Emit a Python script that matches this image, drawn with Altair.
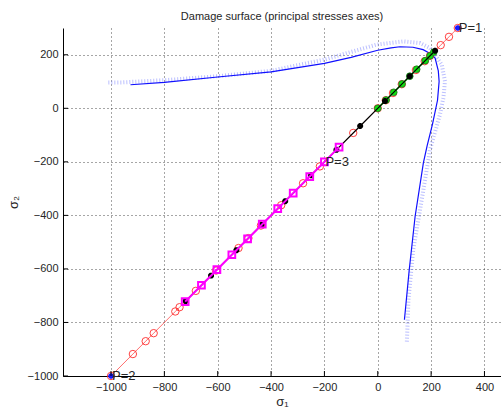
import altair as alt
import pandas as pd

# ---- data -------------------------------------------------------------
# damage surface, solid trace (sigma1, sigma2)
surf_s1 = [-927, -800, -600, -400, -200, -100, 0, 50, 83, 132, 170, 196, 215, 227, 230, 224, 205, 185, 171, 140, 118, 100]
surf_s2 = [88, 97, 117, 136, 168, 190, 217, 226, 230, 228, 219, 205, 188, 140, 100, 30, -60, -140, -204, -404, -603, -790]

# damage surface, hatched band just outside the solid trace
band_s1 = [-1010, -954, -800, -600, -400, -200, -4, 96, 158, 196, 240, 252, 246, 233, 196, 165, 133, 115, 109]
band_s2 = [96, 97, 105, 120, 140, 182, 238, 250, 244, 225, 163, 101, 39, -24, -154, -341, -528, -715, -877]

# proportional loading paths (sigma1 = sigma2)
red_path = [-1000, -918, -870, -840, -759, -743, -682, -606, -522, -485, -438, -362, -280, -217,
            -92, 0, 30, 57, 90, 143, 176, 196, 236, 267, 300]
black_path = [-720, -625, -530, -436, -347, -250, -155, -66, 27, 120, 215]
magenta_path = [-722, -661, -603, -547, -488, -433, -375, -317, -255, -200, -145]
green_path = [0, 31, 60, 91, 120, 146, 178, 196, 210]

# labelled load points
pt_names = ["P=1", "P=2", "P=3"]
pt_s1 = [300, -1000, -200]
pt_s2 = [300, -1000, -200]
end_pts = [300, -1000]

x_ticks = [-1000, -800, -600, -400, -200, 0, 200, 400]
y_ticks = [-1000, -800, -600, -400, -200, 0, 200]

X_DOM = [-1180, 462]
Y_DOM = [-1000, 300]
W, H = 438, 348

FONT = "Liberation Sans"
TXT = "#262626"

# ---- tables -------------------------------------------------------------
def path_df(xs, ys):
    return pd.DataFrame({"s1": xs, "s2": ys, "i": range(len(xs))})

surf = path_df(surf_s1, surf_s2)
band = path_df(band_s1, band_s2)
red = path_df(red_path, red_path)
black = path_df(black_path, black_path)
magenta = path_df(magenta_path, magenta_path)
green = path_df(green_path, green_path)
pts = pd.DataFrame({"s1": pt_s1, "s2": pt_s2, "name": pt_names})
ends = path_df(end_pts, end_pts)

xs = alt.Scale(domain=X_DOM, nice=False, zero=False)
ys = alt.Scale(domain=Y_DOM, nice=False, zero=False)

x_axis = alt.Axis(values=x_ticks, format="d", title="σ₁", grid=True, ticks=False,
                  labelPadding=5, titleY=19, titleFontSize=13)
y_axis = alt.Axis(values=y_ticks, format="d", title="σ₂", grid=True, ticks=False,
                  labelPadding=5, titleX=-43, titleFontSize=13)

X = alt.X("s1:Q", scale=xs, axis=x_axis)
Y = alt.Y("s2:Q", scale=ys, axis=y_axis)

# asterisk marker
STAR = "M-1,0L1,0M0,-1L0,1M-0.7,-0.7L0.7,0.7M-0.7,0.7L0.7,-0.7"

# inward tick marks (5 px long)
tick_dx = 5 * (X_DOM[1] - X_DOM[0]) / W
tick_dy = 5 * (Y_DOM[1] - Y_DOM[0]) / H
xt = pd.DataFrame({"s1": x_ticks, "s2": Y_DOM[0], "y1": Y_DOM[0] + tick_dy})
yt = pd.DataFrame({"s2": y_ticks, "s1": X_DOM[0], "x1": X_DOM[0] + tick_dx})

x_tick_marks = alt.Chart(xt).mark_rule(color="black", strokeWidth=1).encode(
    x=X, y=Y, y2="y1:Q")
y_tick_marks = alt.Chart(yt).mark_rule(color="black", strokeWidth=1).encode(
    y=Y, x=X, x2="x1:Q")

band_line = alt.Chart(band).mark_line(
    color="#7880ff", strokeWidth=4, strokeDash=[1, 2], opacity=0.5
).encode(x=X, y=Y, order="i:Q")

surf_line = alt.Chart(surf).mark_line(color="#1010ff", strokeWidth=1.2).encode(
    x=X, y=Y, order="i:Q")

red_line = alt.Chart(red).mark_line(color="#ff3030", strokeWidth=1, opacity=0.7).encode(
    x=X, y=Y, order="i:Q")
red_pts = alt.Chart(red).mark_point(shape="circle", filled=False, color="#ff2020",
                                    size=55, strokeWidth=1, opacity=0.85).encode(x=X, y=Y)

green_line = alt.Chart(green).mark_line(color="#00c000", strokeWidth=1.5).encode(
    x=X, y=Y, order="i:Q")
green_pts = alt.Chart(green).mark_point(shape="circle", filled=True, fill="#10e010",
                                        stroke="#207020", strokeWidth=0.8, size=45,
                                        opacity=1).encode(x=X, y=Y)

black_line = alt.Chart(black).mark_line(color="black", strokeWidth=1.2).encode(
    x=X, y=Y, order="i:Q")
black_pts = alt.Chart(black).mark_point(shape=STAR, filled=False, color="black",
                                        size=35, strokeWidth=2.2, opacity=1).encode(x=X, y=Y)

mag_line = alt.Chart(magenta).mark_line(color="#ff00ff", strokeWidth=2).encode(
    x=X, y=Y, order="i:Q")
mag_pts = alt.Chart(magenta).mark_point(shape="square", filled=False, color="#ff00ff",
                                        size=45, strokeWidth=2, opacity=1).encode(x=X, y=Y)

blue_pts = alt.Chart(ends).mark_point(shape=STAR, filled=False, color="#1818ff",
                                      size=30, strokeWidth=2, opacity=1).encode(x=X, y=Y)

labels = alt.Chart(pts).mark_text(align="left", baseline="middle", dx=1,
                                  font=FONT, fontSize=13, color=TXT).encode(
    x=X, y=Y, text="name:N")

chart = alt.layer(
    band_line, surf_line,
    red_line, red_pts, green_line, green_pts,
    black_line, black_pts, mag_line, mag_pts,
    blue_pts, labels, x_tick_marks, y_tick_marks,
).properties(
    width=W, height=H,
    autosize=alt.AutoSizeParams(type="none"),
    padding={"left": 63, "top": 28, "right": 0, "bottom": 40},
    title=alt.TitleParams("Damage surface (principal stresses axes)",
                          font=FONT, fontSize=11, fontWeight="normal",
                          color=TXT, offset=-1),
).configure_view(
    stroke=None
).configure_axis(
    labelFont=FONT, labelFontSize=11, labelColor=TXT,
    titleFont=FONT, titleColor=TXT, titleFontWeight="normal",
    domainColor="black", domainWidth=1,
    gridColor="#222222", gridDash=[1, 3], gridWidth=1, gridOpacity=0.8,
)

chart.save("out.html", embed_options={"renderer": "svg", "actions": False})
